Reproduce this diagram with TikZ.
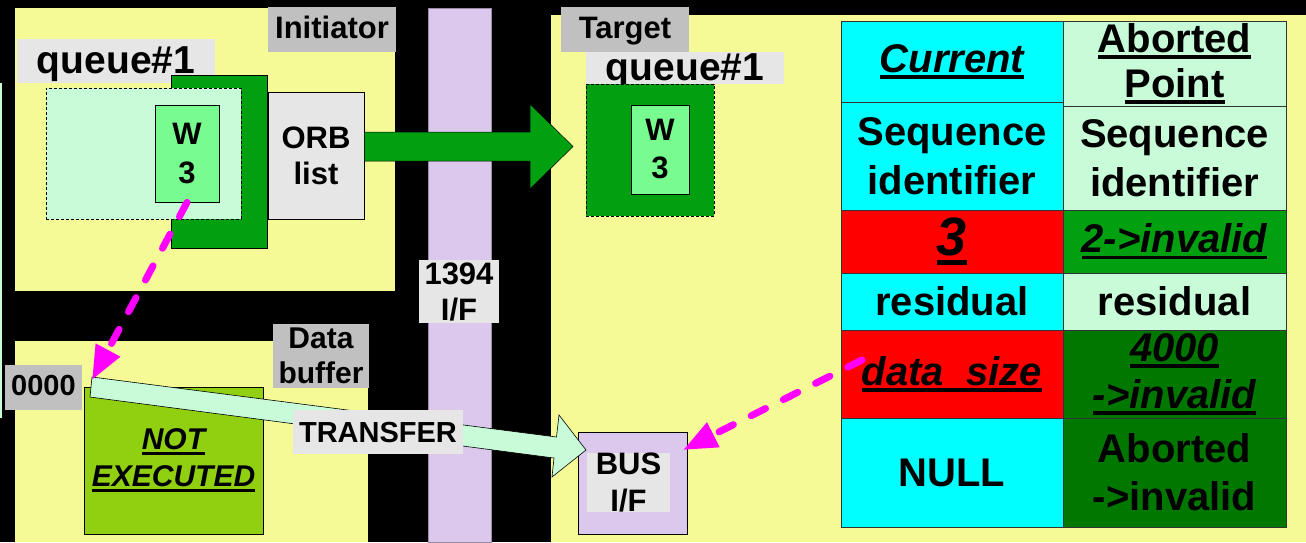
\documentclass[tikz,border=0pt]{standalone}
\usepackage{fontspec}
\setmainfont{Liberation Sans}
\usetikzlibrary{arrows.meta}
\definecolor{bgyellow}{RGB}{245,250,150}
\definecolor{lav}{RGB}{220,200,236}
\definecolor{lgray}{RGB}{230,230,230}
\definecolor{mgray}{RGB}{192,192,192}
\definecolor{qgreen}{RGB}{0,160,16}
\definecolor{pgreen}{RGB}{200,252,216}
\definecolor{wgreen}{RGB}{120,252,144}
\definecolor{ygreen}{RGB}{144,208,16}
\definecolor{dgreen}{RGB}{0,120,0}
\definecolor{mag}{RGB}{255,0,255}
\definecolor{cyn}{RGB}{0,255,255}
\definecolor{rd}{RGB}{255,0,0}
\newcommand\ulx[1]{\leavevmode\setbox0\hbox{#1}\rlap{\rule[-0.17em]{\wd0}{0.09em}}\box0}
\begin{document}
\begin{tikzpicture}[x=1pt,y=-1pt,
  f30/.style={font=\fontsize{31}{36}\selectfont\bfseries},
  f40/.style={font=\fontsize{40}{49}\selectfont\bfseries},
  tag/.style={inner sep=0pt, align=center},
  bx/.style={draw=black, line width=0.8pt, inner sep=0pt, align=center},
  cell/.style={draw=black!80, line width=0.8pt, inner sep=0pt, align=center, f40},
  mline/.style={draw=mag, line width=7pt, line cap=round, dash pattern=on 16pt off 20pt, -{Triangle[length=34pt,width=26pt]}},
]
\useasboundingbox (0,0) rectangle (1306,542);
% background and panels
\fill[black] (0,0) rectangle (1306,542);
\fill[pgreen] (0,83) rectangle (1.5,418);
\fill[bgyellow] (15,8) rectangle (395,291);
\fill[bgyellow] (15,341) rectangle (368,542);
\fill[bgyellow] (551,15) rectangle (1306,542);
\filldraw[fill=lav, draw=lav!70!black, line width=0.5pt] (428,8) rectangle (491,542);

% Initiator side
\node[tag, fill=mgray, minimum width=128pt, text height=31pt, text depth=14pt, f30] (initlbl) at (332,29.5) {Initiator};
\node[tag, fill=lgray, minimum width=198pt, text height=34pt, text depth=10pt, font=\fontsize{39}{47}\selectfont\bfseries] (iqlbl) at (116,61) {queue\#1};
\node[bx, fill=qgreen, minimum width=96pt, minimum height=173pt] (iq) at (219,161.5) {};
\node[bx, fill=pgreen, dash pattern=on 3pt off 2pt, minimum width=195pt, minimum height=131pt] (iqd) at (143.5,153.5) {};
\node[bx, fill=wgreen, minimum width=64pt, minimum height=97pt, font=\fontsize{31}{39}\selectfont\bfseries] (w3a) at (187,153.5) {W\\3};
\node[bx, fill=lgray, minimum width=96pt, minimum height=127pt, f30] (orb) at (316,155.5) {ORB\\list};

% big green arrow
\filldraw[fill=qgreen, draw=black, line width=0.5pt] (orb.east |- 0,132) -- (530,132) -- (530,104) -- (573,146.5) -- (530,189) -- (530,161) -- (orb.east |- 0,161) -- cycle;

% 1394 label
\node[tag, fill=lgray, minimum width=80pt, minimum height=63pt, f30] (ifl) at (459,291.5) {1394\\I/F};

% Target side
\node[tag, fill=mgray, minimum width=128pt, text height=31pt, text depth=14pt, f30] (tgtlbl) at (625,29.5) {Target};
\node[tag, fill=lgray, minimum width=198pt, text height=28pt, text depth=4pt, font=\fontsize{39}{47}\selectfont\bfseries] (tqlbl) at (685,68) {queue\#1};
\node[bx, fill=qgreen, dash pattern=on 3pt off 2pt, minimum width=128pt, minimum height=132pt] (tq) at (650,150) {};
\node[bx, fill=wgreen, minimum width=58pt, minimum height=89pt, font=\fontsize{31}{38}\selectfont\bfseries] (w3b) at (660,149.5) {W\\3};

% Data buffer side
\node[tag, fill=mgray, minimum width=96pt, minimum height=64pt, font=\fontsize{30}{35}\selectfont\bfseries] (dbl) at (321,356) {Data\\buffer};
\node[tag, fill=mgray, minimum width=77pt, text height=30pt, text depth=15pt, font=\fontsize{29}{35}\selectfont\bfseries] (zero) at (43.5,387.5) {0000};
\node[bx, fill=ygreen, minimum width=179pt, minimum height=147pt, font=\fontsize{30}{37}\selectfont\bfseries\itshape] (notex) at (173.5,460.5) {\ulx{NOT}\\\ulx{EXECUTED}};

% BUS I/F
\node[bx, fill=lav, minimum width=109pt, minimum height=102pt] (bus) at (632.5,483) {};
\node[tag, fill=lgray, minimum width=83pt, minimum height=57pt, font=\fontsize{31}{37}\selectfont\bfseries] (buslbl) at (628.5,482.5) {BUS\\I/F};

% transfer arrow
\filldraw[fill=pgreen, draw=black, line width=0.6pt] (92,377) -- (556.5,437) -- (559,415) -- (586,450) -- (552,477) -- (554,458) -- (90,397) -- cycle;
\node[tag, fill=lgray, minimum width=170pt, text height=32pt, text depth=12pt, font=\fontsize{29}{34}\selectfont\bfseries] (xfer) at (378,432) {TRANSFER};

% table
\node[cell, fill=cyn, minimum width=222pt, minimum height=81pt, font=\fontsize{40}{49}\selectfont\bfseries\itshape] (c11) at (952,61.5) {\ulx{Current}};
\node[cell, fill=pgreen, minimum width=223pt, minimum height=85pt, font=\fontsize{40}{45}\selectfont\bfseries] (c12) at (1174.5,63.5) {\ulx{Aborted}\\\ulx{Point}};
\node[cell, fill=cyn, minimum width=222pt, minimum height=108pt, font=\fontsize{40}{49}\selectfont\bfseries] (c21) at (952,156) {Sequence\\identifier};
\node[cell, fill=pgreen, minimum width=223pt, minimum height=104pt, font=\fontsize{40}{49}\selectfont\bfseries] (c22) at (1174.5,158) {Sequence\\identifier};
\node[cell, fill=rd, minimum width=222pt, minimum height=63pt, font=\fontsize{54}{56}\selectfont\bfseries\itshape] (c31) at (952,241.5) {\ulx{3}};
\node[cell, fill=qgreen, minimum width=223pt, minimum height=63pt, font=\fontsize{40}{47}\selectfont\bfseries\itshape] (c32) at (1174.5,241.5) {\ulx{2->invalid}};
\node[cell, fill=cyn, minimum width=222pt, minimum height=57pt] (c41) at (952,301.5) {residual};
\node[cell, fill=pgreen, minimum width=223pt, minimum height=57pt] (c42) at (1174.5,301.5) {residual};
\node[cell, fill=rd, minimum width=222pt, minimum height=88pt, font=\fontsize{40}{47}\selectfont\bfseries\itshape] (c51) at (952,374) {\ulx{data\_size}};
\node[cell, fill=dgreen, minimum width=223pt, minimum height=88pt, font=\fontsize{40}{47}\selectfont\bfseries\itshape] (c52) at (1174.5,374) {\ulx{4000}\\\ulx{->invalid}};
\node[cell, fill=cyn, minimum width=222pt, minimum height=109pt] (c61) at (952,472.5) {NULL};
\node[cell, fill=dgreen, minimum width=223pt, minimum height=109pt, font=\fontsize{40}{48}\selectfont\bfseries] (c62) at (1174.5,472.5) {Aborted\\->invalid};

% magenta dashed connectors
\coordinate (xtail) at (92,380);
\coordinate (m2start) at (862,360);
\coordinate (bustip) at (683,450);
\draw[mline] (w3a.south) -- (xtail);
\draw[mline] (m2start) -- (bustip);
\end{tikzpicture}
\end{document}
